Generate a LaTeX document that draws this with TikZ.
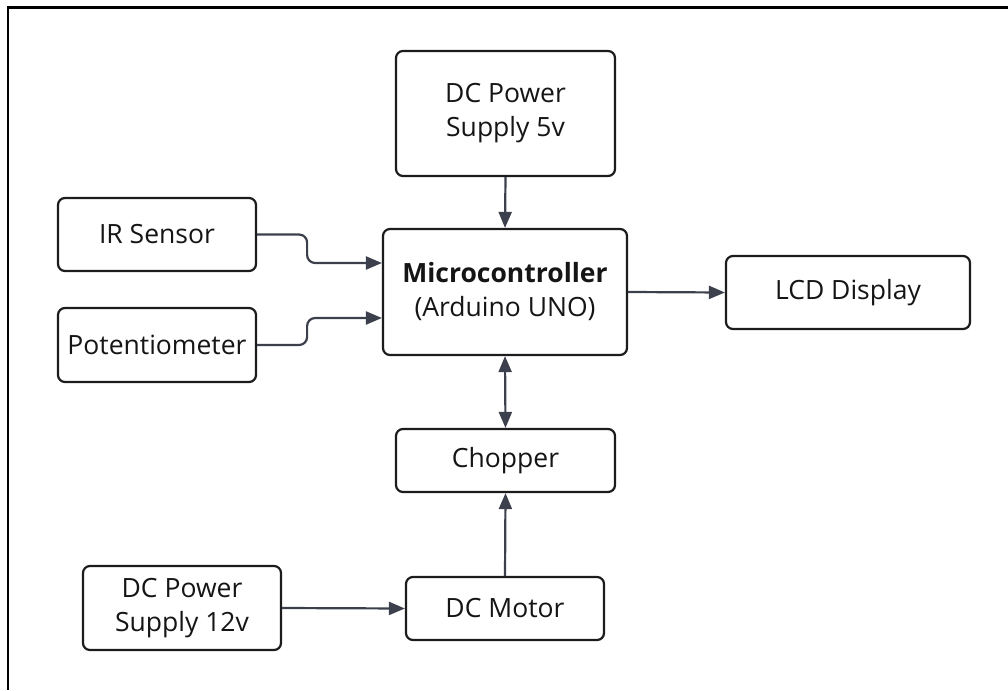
\documentclass[tikz,border=0pt]{standalone}
\usepackage{fontspec}
\setmainfont{Open Sans}
\usetikzlibrary{arrows.meta,calc}
\definecolor{boxline}{HTML}{1C1C1C}
\definecolor{arrline}{HTML}{3B404C}
\definecolor{txt}{HTML}{151515}
\tikzset{
  blk/.style={draw=boxline, line width=2.2pt, rounded corners=7pt, fill=white,
    align=center, text=txt, inner sep=0pt,
    font=\fontsize{26.5}{34}\selectfont},
  arr/.style={draw=arrline, line width=2.2pt, -{Triangle[length=16pt,width=13pt]}},
  darr/.style={draw=arrline, line width=2.2pt, {Triangle[length=16pt,width=13pt]}-{Triangle[length=16pt,width=13pt]}},
}
\begin{document}
\begin{tikzpicture}[x=1pt,y=-1pt]
\useasboundingbox (0,0) rectangle (1008,690);
\coordinate (bl) at (8,690);
\coordinate (tl) at (8,7.5);
\coordinate (tr) at (1008,7.5);
\draw[line width=2.2pt, black] (bl) -- (tl) -- (tr);

\node[blk, minimum width=219pt, minimum height=125pt] (p5) at (505.5,113.5) {DC Power\\Supply 5v};
\node[blk, minimum width=244pt, minimum height=126pt] (mcu) at (505,292) {\textbf{Microcontroller}\\(Arduino UNO)};
\node[blk, minimum width=198pt, minimum height=73pt] (ir) at (157,234.5) {IR Sensor};
\node[blk, minimum width=198pt, minimum height=74pt] (pot) at (157,345) {Potentiometer};
\node[blk, minimum width=244pt, minimum height=73pt] (lcd) at (848,292.5) {LCD Display};
\node[blk, minimum width=219pt, minimum height=63pt] (chop) at (505.5,460.5) {Chopper};
\node[blk, minimum width=198pt, minimum height=63pt] (motor) at (505,608.5) {DC Motor};
\node[blk, minimum width=198pt, minimum height=84pt] (p12) at (182,608) {DC Power\\Supply 12v};

\draw[arr] (p5.south) -- (mcu.north);
\draw[arr, rounded corners=8pt] (ir.east) -- ++(50,0) |- ($(mcu.west)+(0,-29)$);
\draw[arr, rounded corners=8pt] (pot.east) -- ++(50,0) |- ($(mcu.west)+(0,26)$);
\draw[arr] (mcu.east) -- (lcd.west);
\draw[darr] (mcu.south) -- (chop.north);
\draw[arr] (motor.north) -- (chop.south);
\draw[arr] (p12.east) -- (motor.west);
\end{tikzpicture}
\end{document}
